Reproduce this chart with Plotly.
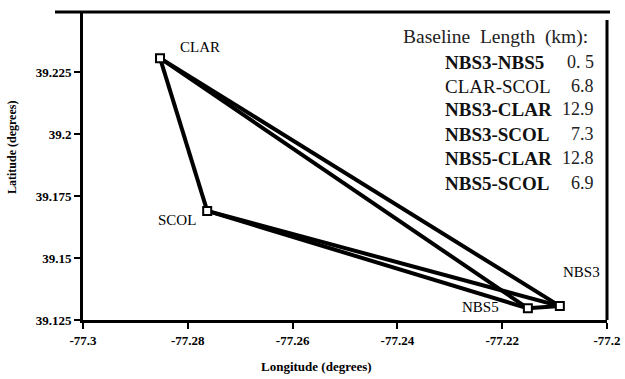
import plotly.graph_objects as go

# Station positions
stations = ["CLAR", "SCOL", "NBS5", "NBS3"]
lon = [-77.2853, -77.2763, -77.2151, -77.2090]
lat = [39.2306, 39.1690, 39.1297, 39.1306]

# Baselines (pairs) drawn on the map
baseline_from = ["CLAR", "CLAR", "CLAR", "SCOL", "SCOL", "NBS3"]
baseline_to = ["SCOL", "NBS3", "NBS5", "NBS3", "NBS5", "NBS5"]

# Baseline length table
table_names = ["NBS3-NBS5", "CLAR-SCOL", "NBS3-CLAR", "NBS3-SCOL", "NBS5-CLAR", "NBS5-SCOL"]
table_lengths = ["0. 5", "6.8", "12.9", "7.3", "12.8", "6.9"]

x_ticks = [-77.3, -77.28, -77.26, -77.24, -77.22, -77.2]
x_ticklabels = ["-77.3", "-77.28", "-77.26", "-77.24", "-77.22", "-77.2"]
y_ticks = [39.125, 39.15, 39.175, 39.2, 39.225]
y_ticklabels = ["39.125", "39.15", "39.175", "39.2", "39.225"]

idx = {s: i for i, s in enumerate(stations)}

fig = go.Figure()
for a, b in zip(baseline_from, baseline_to):
    fig.add_trace(go.Scatter(
        x=[lon[idx[a]], lon[idx[b]]], y=[lat[idx[a]], lat[idx[b]]],
        mode="lines", line=dict(color="black", width=4),
        showlegend=False, hoverinfo="skip"))

fig.add_trace(go.Scatter(
    x=lon, y=lat, mode="markers",
    marker=dict(symbol="square", size=8, color="white",
                line=dict(color="black", width=2)),
    showlegend=False))

serif = "Liberation Serif"

# Station labels
label_shift = {"CLAR": (40, 11), "SCOL": (-30, -9), "NBS5": (-47, 1), "NBS3": (22, 34)}
for s, x, y in zip(stations, lon, lat):
    dx, dy = label_shift[s]
    fig.add_annotation(x=x, y=y, text=s, showarrow=False, xshift=dx, yshift=dy,
                       font=dict(family=serif, size=15, color="black"))

# Plot area geometry (pixels) for paper conversion
L, R, T, B = 83, 607, 12, 320
W, H = R - L, B - T
def px(x):
    return (x - L) / W
def py(y):
    return (B - y) / H

fig.add_annotation(x=px(590), y=py(37), xref="paper", yref="paper",
                   text="Baseline  Length  (km):", showarrow=False,
                   xanchor="right", yanchor="middle",
                   font=dict(family=serif, size=19.5, color="#222"))
row_y = [62, 86, 109, 134, 158, 183]
for name, val, ry in zip(table_names, table_lengths, row_y):
    bold = name.startswith("NBS")
    fig.add_annotation(x=px(443), y=py(ry), xref="paper", yref="paper",
                       text=("<b>%s</b>" % name) if bold else name, showarrow=False,
                       xanchor="left", yanchor="middle",
                       font=dict(family=serif, size=19, color="#111"))
    fig.add_annotation(x=px(596), y=py(ry), xref="paper", yref="paper",
                       text=val, showarrow=False,
                       xanchor="right", yanchor="middle",
                       font=dict(family=serif, size=18, color="#222"))

# Axis titles
fig.add_annotation(x=px(316), y=py(366), xref="paper", yref="paper",
                   text="<b>Longitude (degrees)</b>", showarrow=False,
                   xanchor="center", yanchor="middle",
                   font=dict(family=serif, size=13, color="black"))
fig.add_annotation(x=px(12), y=py(148), xref="paper", yref="paper",
                   text="<b>Latitude (degrees)</b>", showarrow=False, textangle=-90,
                   xanchor="center", yanchor="middle",
                   font=dict(family=serif, size=12, color="black"))

# Top frame line extending beyond plot
fig.add_shape(type="line", xref="paper", yref="paper",
              x0=px(55), x1=px(610), y0=py(12), y1=py(12),
              line=dict(color="black", width=3))

axis_common = dict(showgrid=False, zeroline=False, showline=True, linecolor="black",
                   linewidth=3, ticks="outside", ticklen=6, tickwidth=2, tickcolor="black",
                   automargin=False,
                   tickfont=dict(family=serif, size=13, color="black"))

fig.update_xaxes(range=[-77.3, -77.2], tickvals=x_ticks, ticktext=["<b>%s</b>" % t for t in x_ticklabels],
                 **axis_common)
fig.update_yaxes(range=[39.125, 39.2492], tickvals=y_ticks, ticktext=["<b>%s</b>" % t for t in y_ticklabels],
                 **axis_common)

fig.add_shape(type="line", xref="paper", yref="paper",
              x0=1, x1=1, y0=0, y1=py(20), line=dict(color="black", width=3))

fig.update_layout(width=625, height=379, margin=dict(l=83, r=18, t=12, b=59),
                  plot_bgcolor="white", paper_bgcolor="white")

fig.write_html("out.html")
